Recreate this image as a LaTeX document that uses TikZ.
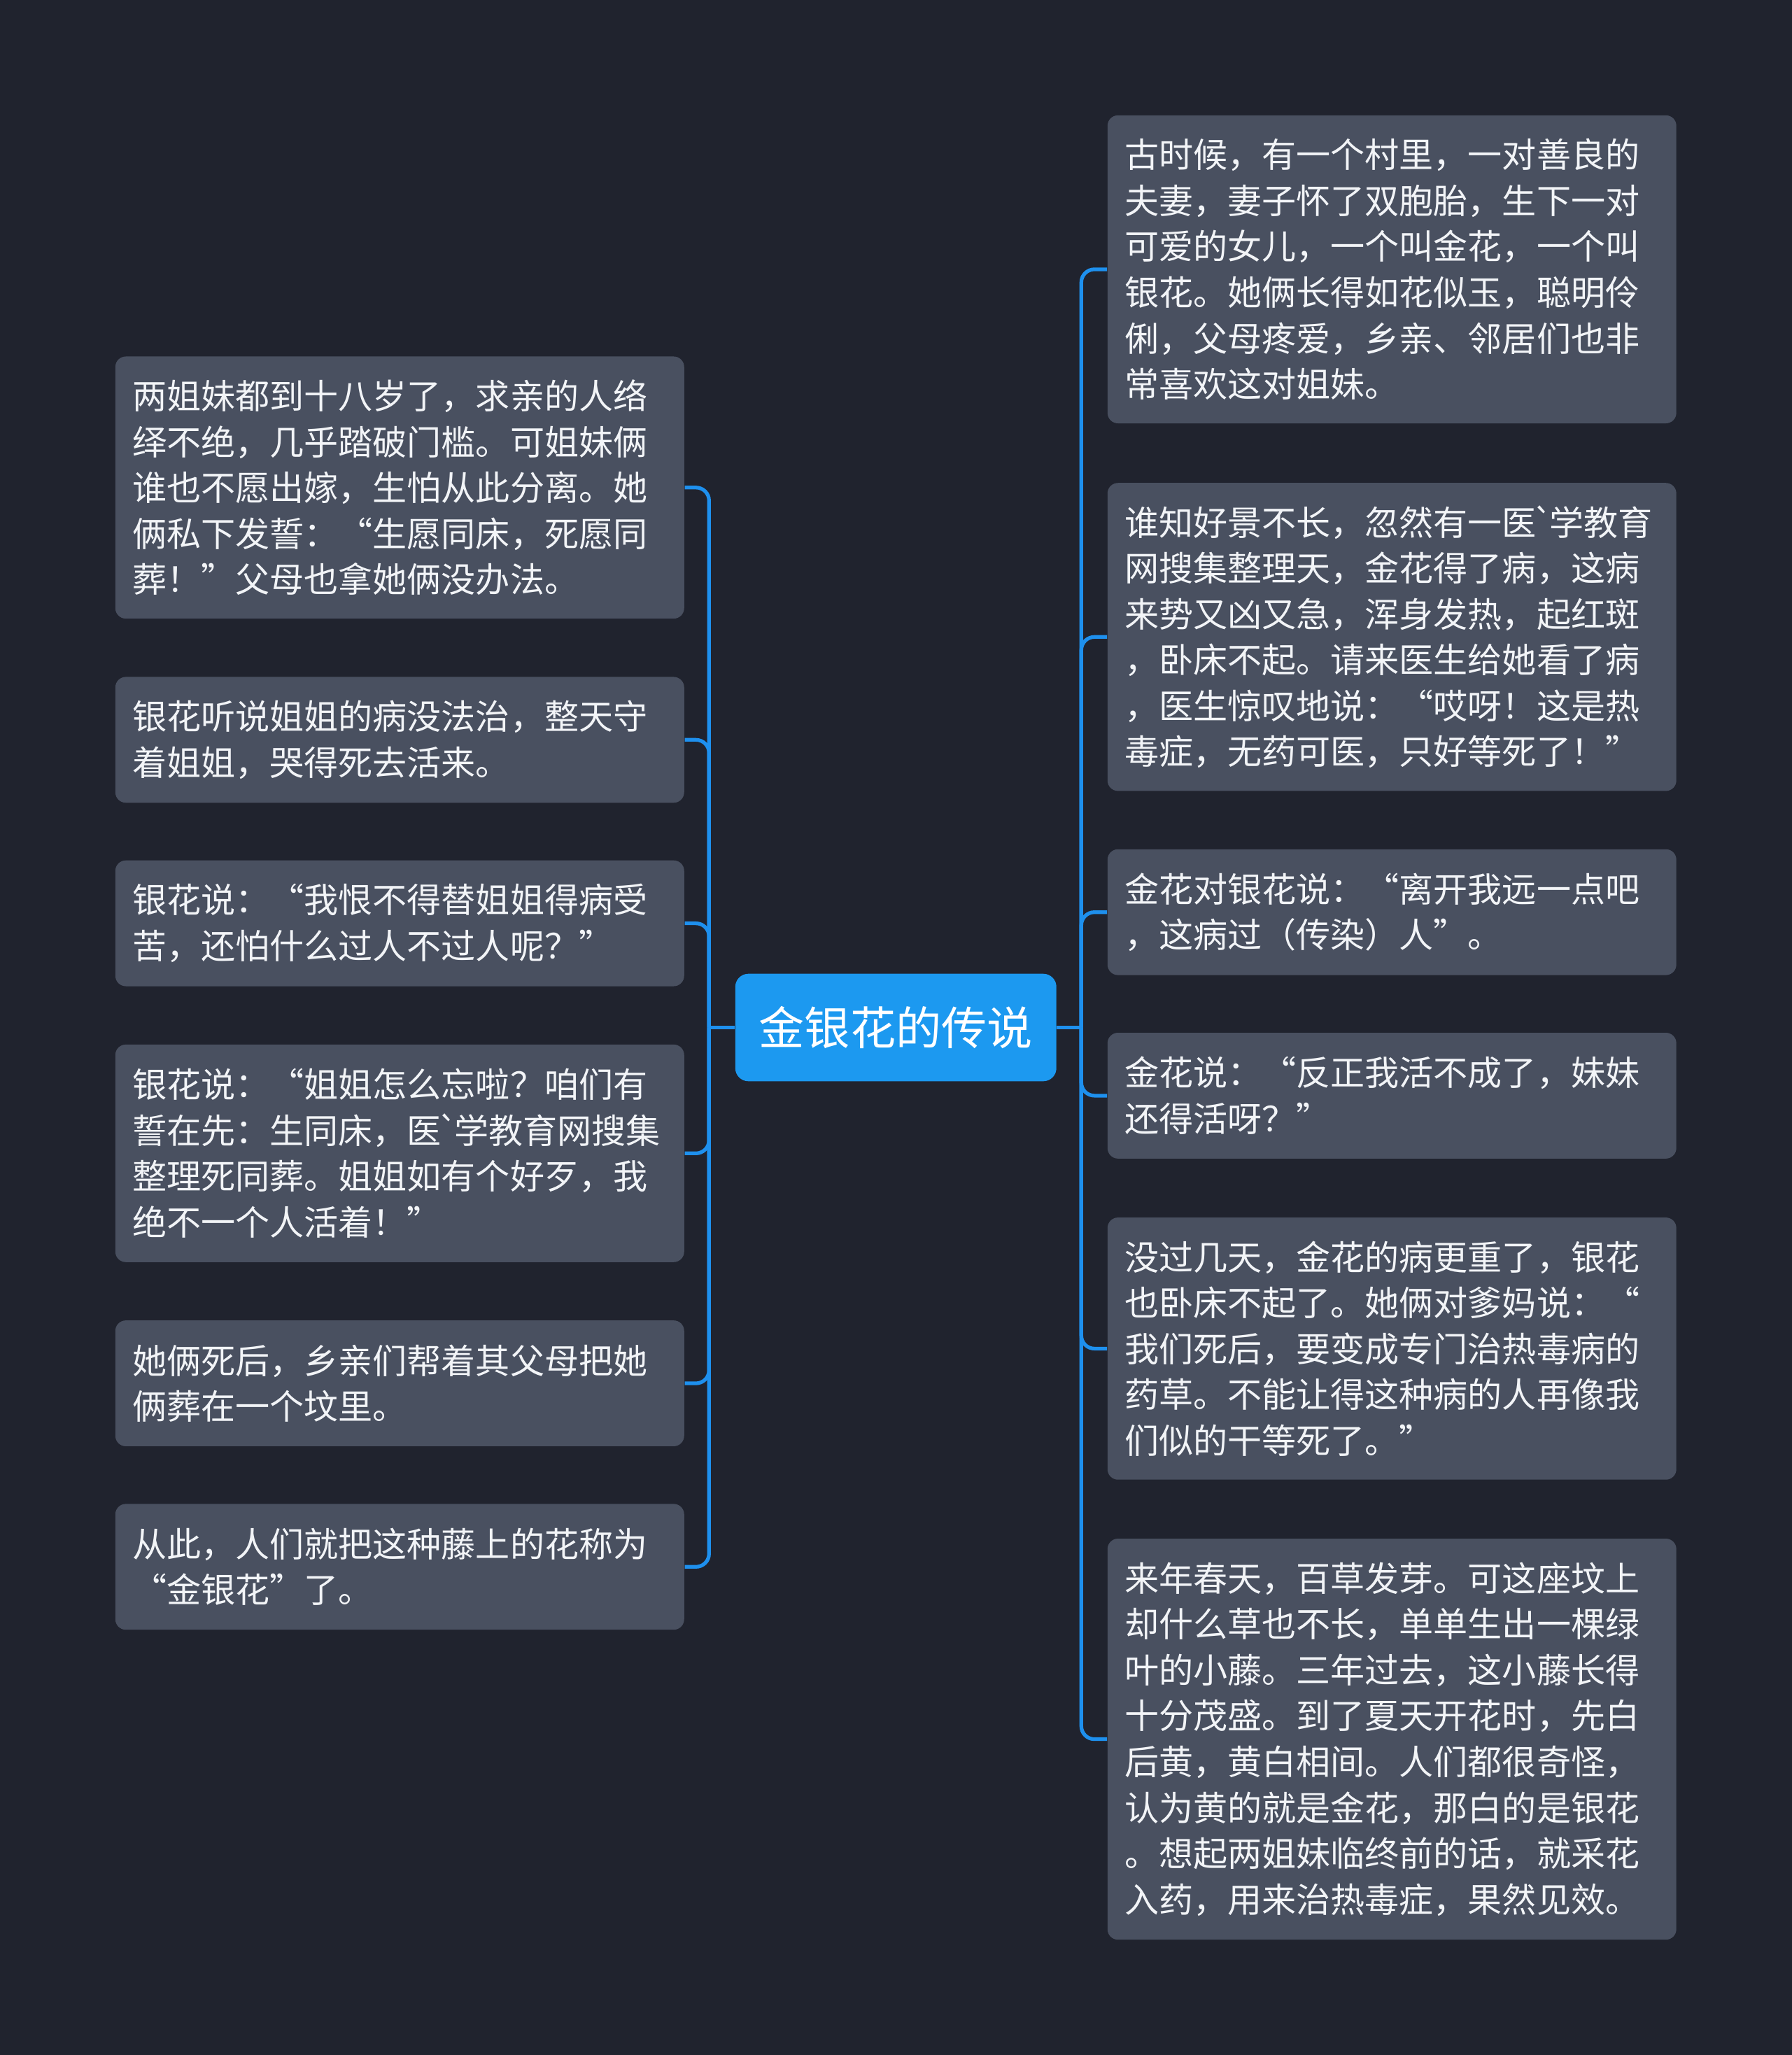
\documentclass[tikz,border=0pt]{standalone}
\usepackage{fontspec}
\newfontfamily\cjk{Noto Sans CJK SC}
\definecolor{bg}{HTML}{20232E}
\definecolor{leaffill}{HTML}{495060}
\definecolor{leaftext}{HTML}{F2F4F7}
\definecolor{rootfill}{HTML}{1C99F0}
\definecolor{conncol}{HTML}{1E90EE}
\newcommand{\gravemark}{\kern-1.5pt`\kern-1.5pt}
\tikzset{
  leaf/.style={fill=leaffill, rounded corners=4pt, text=leaftext,
    font=\cjk\fontsize{13.1pt}{17.5pt}\selectfont, align=left,
    text width=204pt, inner xsep=6.5pt, inner ysep=0pt, minimum width=217pt},
  root/.style={fill=rootfill, rounded corners=5pt, text=white,
    font=\cjk\fontsize{17.4pt}{21pt}\selectfont, inner sep=0pt,
    minimum width=122.5pt, minimum height=41pt},
  conn/.style={draw=conncol, line width=1.4pt, rounded corners=5pt}
}
\begin{document}
\begin{tikzpicture}[x=0.5pt,y=-0.5pt]
\fill[bg] (0,0) rectangle (1367,1568);
\useasboundingbox (0,0) rectangle (1367,1568);

\node[root] (c) at (683.5,784) {金银花的传说};

% right side
\node[leaf, minimum height=117.5pt] (R1) at (1062,205.5) {古时候，有一个村里，一对善良的\\夫妻，妻子怀了双胞胎，生下一对\\可爱的女儿，一个叫金花，一个叫\\银花。她俩长得如花似玉，聪明伶\\俐，父母疼爱，乡亲、邻居们也非\\常喜欢这对姐妹。};
\node[leaf, minimum height=117.5pt] (R2) at (1062,486) {谁知好景不长，忽然有一医\gravemark 学教育\\网搜集整理天，金花得了病，这病\\来势又凶又急，浑身发热，起红斑\\，卧床不起。请来医生给她看了病\\，医生惊叹地说：“哎呀！这是热\\毒症，无药可医，只好等死了！”};
\node[leaf, minimum height=48pt] (R3) at (1062,696) {金花对银花说：“离开我远一点吧\\，这病过（传染）人”。};
\node[leaf, minimum height=48pt] (R4) at (1062,836) {金花说：“反正我活不成了，妹妹\\还得活呀？”};
\node[leaf, minimum height=100pt] (R5) at (1062,1029) {没过几天，金花的病更重了，银花\\也卧床不起了。她俩对爹妈说：“\\我们死后，要变成专门治热毒病的\\药草。不能让得这种病的人再像我\\们似的干等死了。”};
\node[leaf, minimum height=153pt] (R6) at (1062,1327) {来年春天，百草发芽。可这座坟上\\却什么草也不长，单单生出一棵绿\\叶的小藤。三年过去，这小藤长得\\十分茂盛。到了夏天开花时，先白\\后黄，黄白相间。人们都很奇怪，\\认为黄的就是金花，那白的是银花\\。想起两姐妹临终前的话，就采花\\入药，用来治热毒症，果然见效。};

% left side
\node[leaf, minimum height=100pt] (L1) at (305,372) {两姐妹都到十八岁了，求亲的人络\\绎不绝，几乎踏破门槛。可姐妹俩\\谁也不愿出嫁，生怕从此分离。她\\俩私下发誓：“生愿同床，死愿同\\葬！”父母也拿她俩没办法。};
\node[leaf, minimum height=48pt] (L2) at (305,564.5) {银花听说姐姐的病没法治，整天守\\着姐姐，哭得死去活来。};
\node[leaf, minimum height=48pt] (L3) at (305,704.5) {银花说：“我恨不得替姐姐得病受\\苦，还怕什么过人不过人呢？”};
\node[leaf, minimum height=83pt] (L4) at (305,880) {银花说：“姐姐怎么忘啦？咱们有\\誓在先：生同床，医\gravemark 学教育网搜集\\整理死同葬。姐姐如有个好歹，我\\绝不一个人活着！”};
\node[leaf, minimum height=48pt] (L5) at (305,1055.5) {她俩死后，乡亲们帮着其父母把她\\俩葬在一个坟里。};
\node[leaf, minimum height=48pt] (L6) at (305,1195.5) {从此，人们就把这种藤上的花称为\\“金银花”了。};

% junctions
\coordinate (rj) at (825,784);
\coordinate (lj) at (541,784);
\draw[conn] (c.east) -- (rj);
\draw[conn] (c.west) -- (lj);
\foreach \n in {R1,R2,R3,R4,R5,R6} \draw[conn] (rj) |- (\n.west);
\foreach \n in {L1,L2,L3,L4,L5,L6} \draw[conn] (lj) |- (\n.east);
\end{tikzpicture}
\end{document}
